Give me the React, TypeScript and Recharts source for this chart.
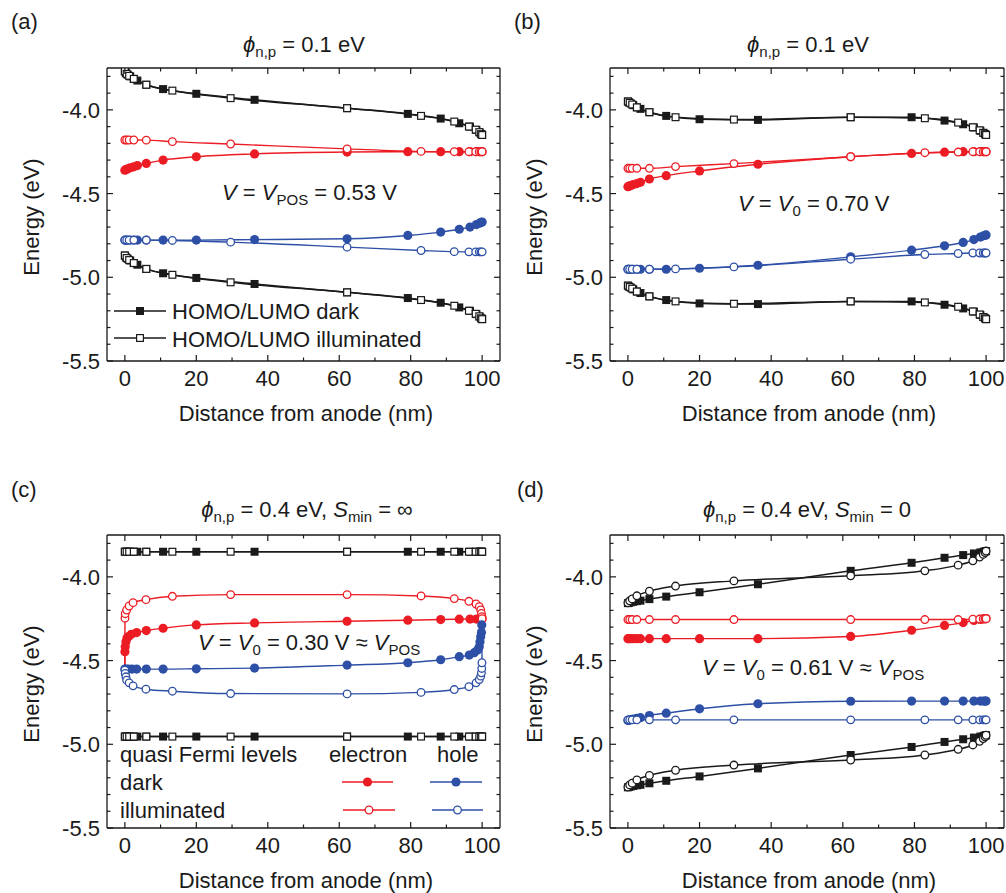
import React from "react";
import { LineChart, Line, XAxis, YAxis } from "recharts";

// ---- data (distance in nm, energy in eV) ----
const gridDark = [0, 0.3, 0.8, 1.5, 2.5, 3.5, 6, 10.7, 20, 36.3, 62.2, 79.2, 88.4, 93.6, 96.6, 98.4, 99.3, 99.8, 100];
const gridIllum = [0, 0.5, 1.2, 2.5, 6, 13.3, 29.6, 62.2, 82.9, 92.2, 96.3, 98.2, 99.2, 99.7, 100];

const xTicks = [0, 10, 20, 30, 40, 50, 60, 70, 80, 90, 100];
const yTicks = [-5.5, -5.4, -5.3, -5.2, -5.1, -5.0, -4.9, -4.8, -4.7, -4.6, -4.5, -4.4, -4.3, -4.2, -4.1, -4.0, -3.9, -3.8];

// (a)
const aLumoDark = [-3.77, -3.78, -3.79, -3.8, -3.815, -3.825, -3.85, -3.876, -3.904, -3.94, -3.99, -4.024, -4.052, -4.08, -4.1, -4.12, -4.135, -4.145, -4.15];
const aHomoDark = [-4.87, -4.88, -4.89, -4.9, -4.915, -4.925, -4.95, -4.976, -5.004, -5.04, -5.09, -5.124, -5.152, -5.18, -5.2, -5.22, -5.235, -5.245, -5.25];
const aLumoIllum = [-3.77, -3.785, -3.797, -3.815, -3.85, -3.885, -3.93, -3.99, -4.036, -4.07, -4.1, -4.118, -4.133, -4.145, -4.15];
const aHomoIllum = [-4.87, -4.885, -4.897, -4.915, -4.95, -4.985, -5.03, -5.09, -5.136, -5.17, -5.2, -5.218, -5.233, -5.245, -5.25];
const aElecDark = [-4.36, -4.357, -4.352, -4.346, -4.34, -4.333, -4.32, -4.3, -4.28, -4.263, -4.252, -4.25, -4.25, -4.25, -4.25, -4.25, -4.25, -4.25, -4.25];
const aElecIllum = [-4.18, -4.18, -4.18, -4.18, -4.181, -4.19, -4.204, -4.233, -4.248, -4.25, -4.25, -4.25, -4.25, -4.25, -4.25];
const aHoleDark = [-4.778, -4.778, -4.778, -4.778, -4.778, -4.778, -4.778, -4.778, -4.778, -4.775, -4.77, -4.75, -4.73, -4.713, -4.7, -4.685, -4.677, -4.672, -4.67];
const aHoleIllum = [-4.778, -4.778, -4.778, -4.778, -4.778, -4.78, -4.79, -4.82, -4.84, -4.847, -4.848, -4.848, -4.848, -4.848, -4.848];

// (b)
const bLumoDark = [-3.95, -3.955, -3.962, -3.972, -3.985, -3.994, -4.014, -4.036, -4.056, -4.06, -4.044, -4.044, -4.064, -4.086, -4.105, -4.125, -4.138, -4.146, -4.15];
const bHomoDark = [-5.05, -5.055, -5.062, -5.072, -5.085, -5.094, -5.114, -5.136, -5.156, -5.16, -5.144, -5.144, -5.164, -5.186, -5.205, -5.225, -5.238, -5.246, -5.25];
const bLumoIllum = [-3.95, -3.958, -3.968, -3.985, -4.014, -4.044, -4.058, -4.044, -4.05, -4.076, -4.104, -4.122, -4.137, -4.145, -4.15];
const bHomoIllum = [-5.05, -5.058, -5.068, -5.085, -5.114, -5.144, -5.158, -5.144, -5.15, -5.176, -5.204, -5.222, -5.237, -5.245, -5.25];
const bElecDark = [-4.459, -4.456, -4.452, -4.446, -4.44, -4.433, -4.413, -4.393, -4.365, -4.325, -4.28, -4.26, -4.253, -4.25, -4.25, -4.25, -4.25, -4.25, -4.25];
const bElecIllum = [-4.349, -4.349, -4.349, -4.349, -4.349, -4.339, -4.321, -4.28, -4.256, -4.252, -4.25, -4.25, -4.25, -4.25, -4.25];
const bHoleDark = [-4.952, -4.952, -4.952, -4.952, -4.952, -4.952, -4.952, -4.952, -4.946, -4.928, -4.878, -4.838, -4.812, -4.792, -4.775, -4.76, -4.752, -4.749, -4.747];
const bHoleIllum = [-4.952, -4.952, -4.952, -4.952, -4.952, -4.95, -4.938, -4.892, -4.864, -4.858, -4.855, -4.855, -4.855, -4.855, -4.855];

// (c)
const cLumoDark = [-3.85, -3.85, -3.85, -3.85, -3.85, -3.85, -3.85, -3.85, -3.85, -3.85, -3.85, -3.85, -3.85, -3.85, -3.85, -3.85, -3.85, -3.85, -3.85];
const cHomoDark = [-4.954, -4.954, -4.954, -4.954, -4.954, -4.954, -4.954, -4.954, -4.954, -4.954, -4.954, -4.954, -4.954, -4.954, -4.954, -4.954, -4.954, -4.954, -4.954];
const cLumoIllum = [-3.85, -3.85, -3.85, -3.85, -3.85, -3.85, -3.85, -3.85, -3.85, -3.85, -3.85, -3.85, -3.85, -3.85, -3.85];
const cHomoIllum = [-4.954, -4.954, -4.954, -4.954, -4.954, -4.954, -4.954, -4.954, -4.954, -4.954, -4.954, -4.954, -4.954, -4.954, -4.954];
const cElecDarkX = [0, 0.02, 0.1, 0.3, 0.6, 1, 1.8, 3.3, 6, 10.7, 20, 36.3, 62.2, 79.2, 88.4, 93.6, 96.6, 98.4, 99.3, 99.8, 100];
const cElecDarkY = [-4.545, -4.447, -4.417, -4.387, -4.365, -4.357, -4.343, -4.333, -4.321, -4.307, -4.287, -4.275, -4.265, -4.259, -4.255, -4.253, -4.252, -4.252, -4.251, -4.25, -4.25];
const cElecIllumX = [0, 0.03, 0.1, 0.5, 1.2, 2.3, 5.9, 13.3, 29.6, 62.2, 82.9, 92.2, 96.3, 98.3, 99.2, 99.6, 99.8, 99.95, 100];
const cElecIllumY = [-4.545, -4.247, -4.22, -4.198, -4.174, -4.154, -4.136, -4.116, -4.106, -4.106, -4.114, -4.13, -4.146, -4.162, -4.178, -4.198, -4.218, -4.238, -4.25];
const cHoleDarkX = [0, 0.3, 1, 2, 3.3, 6, 10.7, 20, 36.3, 62.2, 79.2, 88.4, 93.6, 96.4, 97.8, 98.7, 99.2, 99.4, 99.6, 99.8, 99.9, 100];
const cHoleDarkY = [-4.551, -4.551, -4.551, -4.551, -4.551, -4.551, -4.551, -4.549, -4.545, -4.527, -4.513, -4.495, -4.477, -4.467, -4.453, -4.437, -4.417, -4.387, -4.357, -4.333, -4.287, -4.25];
const cHoleIllumX = [0, 0.1, 0.3, 0.5, 1.2, 2.3, 5.9, 13.3, 29.6, 62.2, 82.9, 92.2, 96.3, 98.3, 99.2, 99.6, 99.8, 99.9, 99.95, 100];
const cHoleIllumY = [-4.557, -4.577, -4.597, -4.617, -4.633, -4.651, -4.671, -4.683, -4.697, -4.699, -4.69, -4.673, -4.656, -4.633, -4.613, -4.593, -4.573, -4.547, -4.513, -4.25];

// (d)
const dLumoDark = [-4.157, -4.155, -4.152, -4.149, -4.145, -4.142, -4.133, -4.118, -4.092, -4.044, -3.964, -3.916, -3.886, -3.87, -3.86, -3.854, -3.85, -3.847, -3.846];
const dHomoDark = [-5.257, -5.255, -5.252, -5.249, -5.245, -5.242, -5.233, -5.218, -5.192, -5.144, -5.064, -5.016, -4.986, -4.97, -4.96, -4.954, -4.95, -4.947, -4.946];
const dLumoIllum = [-4.155, -4.143, -4.132, -4.113, -4.086, -4.055, -4.024, -3.994, -3.964, -3.93, -3.904, -3.882, -3.866, -3.855, -3.846];
const dHomoIllum = [-5.255, -5.243, -5.232, -5.213, -5.186, -5.155, -5.124, -5.094, -5.064, -5.03, -5.004, -4.982, -4.966, -4.955, -4.946];
const dElecDark = [-4.369, -4.369, -4.369, -4.369, -4.369, -4.369, -4.369, -4.369, -4.369, -4.369, -4.356, -4.319, -4.29, -4.273, -4.26, -4.254, -4.251, -4.25, -4.249];
const dElecIllum = [-4.255, -4.255, -4.255, -4.255, -4.255, -4.255, -4.255, -4.255, -4.255, -4.255, -4.253, -4.252, -4.251, -4.25, -4.25];
const dHoleDark = [-4.858, -4.856, -4.853, -4.849, -4.845, -4.841, -4.828, -4.814, -4.788, -4.758, -4.743, -4.742, -4.742, -4.742, -4.742, -4.742, -4.742, -4.742, -4.742];
const dHoleIllum = [-4.854, -4.854, -4.854, -4.854, -4.854, -4.854, -4.854, -4.854, -4.854, -4.854, -4.854, -4.854, -4.854, -4.854, -4.854];

// ---- styling ----
const FONT = "'Liberation Sans', Arial, Helvetica, sans-serif";
const INK = "#1a1a1a";
const RED = "#ec1c24";
const BLUE = "#2d4fa6";
const FS = 22;

type Kind = "sq" | "osq" | "dot" | "odot";
type Series = { xs: number[]; ys: number[]; color: string; kind: Kind; hide?: number[] };

const zip = (xs: number[], ys: number[]) => xs.map((x, i) => ({ x, y: ys[i] }));

function Marker({ kind, color, cx, cy }: { kind: Kind; color: string; cx: number; cy: number }) {
  if (kind === "sq") return <rect x={cx - 4} y={cy - 4} width={8} height={8} fill={color} />;
  if (kind === "osq") return <rect x={cx - 3.4} y={cy - 3.4} width={6.8} height={6.8} fill="#fff" stroke={color} strokeWidth={1.2} />;
  if (kind === "dot") return <circle cx={cx} cy={cy} r={4.6} fill={color} />;
  return <circle cx={cx} cy={cy} r={3.8} fill="#fff" stroke={color} strokeWidth={1.3} />;
}

function makeDot(kind: Kind, color: string, hide: number[]) {
  return (p: any) => {
    const { cx, cy, index } = p;
    if (hide.includes(index) || cx == null || cy == null) return <g key={`d${index}`} />;
    return (
      <g key={`d${index}`}>
        <Marker kind={kind} color={color} cx={cx} cy={cy} />
      </g>
    );
  };
}

const axisLine = { stroke: INK, strokeWidth: 1.3 };
const isMajorY = (v: number) => Math.abs(v * 2 - Math.round(v * 2)) < 1e-6;

const BottomTick = (p: any) => {
  const v = p.payload.value;
  const major = v % 20 === 0;
  return (
    <g>
      <line x1={p.x} x2={p.x} y1={p.y} y2={p.y - (major ? 6 : 3.5)} stroke={INK} strokeWidth={1.2} />
      {major && (
        <text x={p.x} y={p.y + 25} textAnchor="middle" fontSize={FS} fontFamily={FONT} fill={INK}>
          {v}
        </text>
      )}
    </g>
  );
};
const TopTick = (p: any) => {
  const major = p.payload.value % 20 === 0;
  return <line x1={p.x} x2={p.x} y1={p.y} y2={p.y + (major ? 6 : 3.5)} stroke={INK} strokeWidth={1.2} />;
};
const LeftTick = (p: any) => {
  const v = p.payload.value;
  const major = isMajorY(v);
  return (
    <g>
      <line x1={p.x} x2={p.x + (major ? 6 : 3.5)} y1={p.y} y2={p.y} stroke={INK} strokeWidth={1.2} />
      {major && (
        <text x={p.x - 7} y={p.y + 8} textAnchor="end" fontSize={FS} fontFamily={FONT} fill={INK}>
          {v.toFixed(1)}
        </text>
      )}
    </g>
  );
};
const RightTick = (p: any) => {
  const major = isMajorY(p.payload.value);
  return <line x1={p.x} x2={p.x - (major ? 6 : 3.5)} y1={p.y} y2={p.y} stroke={INK} strokeWidth={1.2} />;
};

// axes are 1px thick so Recharts renders them; margins absorb that pixel
function Panel({ left, top, height, right, bottom, series }: { left: number; top: number; height: number; right: number; bottom: number; series: Series[] }) {
  return (
    <div style={{ position: "absolute", left, top }}>
      <LineChart width={503} height={height} margin={{ top: 67, left: 106, right: right - 1, bottom: bottom - 1 }}>
        <XAxis dataKey="x" type="number" domain={[-5, 105]} ticks={xTicks} interval={0} height={1} tickSize={0} tickMargin={0} tickLine={false} axisLine={axisLine} tick={BottomTick} allowDataOverflow />
        <XAxis xAxisId="top" orientation="top" dataKey="x" type="number" domain={[-5, 105]} ticks={xTicks} interval={0} height={1} tickSize={0} tickMargin={0} tickLine={false} axisLine={axisLine} tick={TopTick} allowDataOverflow />
        <YAxis type="number" domain={[-5.5, -3.75]} ticks={yTicks} interval={0} width={1} tickSize={0} tickMargin={0} tickLine={false} axisLine={axisLine} tick={LeftTick} allowDataOverflow />
        <YAxis yAxisId="right" orientation="right" type="number" domain={[-5.5, -3.75]} ticks={yTicks} interval={0} width={1} tickSize={0} tickMargin={0} tickLine={false} axisLine={axisLine} tick={RightTick} allowDataOverflow />
        {series.map((s, i) => (
          <Line
            key={i}
            data={zip(s.xs, s.ys)}
            dataKey="y"
            type="monotone"
            stroke={s.color}
            strokeWidth={s.color === INK ? 1.5 : 1.4}
            dot={makeDot(s.kind, s.color, s.hide || [])}
            activeDot={false}
            isAnimationActive={false}
          />
        ))}
      </LineChart>
    </div>
  );
}

const bands = (ld: number[], hd: number[], li: number[], hi: number[], illumKind: Kind = "osq"): Series[] => [
  { xs: gridDark, ys: ld, color: INK, kind: "sq" },
  { xs: gridIllum, ys: li, color: INK, kind: illumKind },
  { xs: gridDark, ys: hd, color: INK, kind: "sq" },
  { xs: gridIllum, ys: hi, color: INK, kind: illumKind },
];
const fermi = (ed: number[], ei: number[], hd: number[], hi: number[]): Series[] => [
  { xs: gridDark, ys: ed, color: RED, kind: "dot" },
  { xs: gridIllum, ys: ei, color: RED, kind: "odot" },
  { xs: gridDark, ys: hd, color: BLUE, kind: "dot" },
  { xs: gridIllum, ys: hi, color: BLUE, kind: "odot" },
];

const seriesA = [...bands(aLumoDark, aHomoDark, aLumoIllum, aHomoIllum), ...fermi(aElecDark, aElecIllum, aHoleDark, aHoleIllum)];
const seriesB = [...bands(bLumoDark, bHomoDark, bLumoIllum, bHomoIllum), ...fermi(bElecDark, bElecIllum, bHoleDark, bHoleIllum)];
const seriesC: Series[] = [
  ...bands(cLumoDark, cHomoDark, cLumoIllum, cHomoIllum),
  { xs: cElecDarkX, ys: cElecDarkY, color: RED, kind: "dot", hide: [0] },
  { xs: cElecIllumX, ys: cElecIllumY, color: RED, kind: "odot", hide: [0] },
  { xs: cHoleDarkX, ys: cHoleDarkY, color: BLUE, kind: "dot", hide: [cHoleDarkX.length - 1] },
  { xs: cHoleIllumX, ys: cHoleIllumY, color: BLUE, kind: "odot", hide: [cHoleIllumX.length - 1] },
];
const seriesD = [...bands(dLumoDark, dHomoDark, dLumoIllum, dHomoIllum, "odot"), ...fermi(dElecDark, dElecIllum, dHoleDark, dHoleIllum)];

// ---- text helpers ----
const T = (props: any) => <text fontFamily={FONT} fontSize={FS} fill={INK} {...props} />;
const Sub = ({ children }: { children: React.ReactNode }) => (
  <tspan fontSize={15} dy={5}>
    {children}
  </tspan>
);
const Up = ({ children }: { children: React.ReactNode }) => <tspan dy={-5}>{children}</tspan>;
const It = ({ children }: { children: React.ReactNode }) => <tspan fontStyle="italic">{children}</tspan>;

function Title({ x, y, phi, smin }: { x: number; y: number; phi: string; smin?: string }) {
  return (
    <T x={x} y={y} textAnchor="middle">
      <It>ϕ</It>
      <Sub>n,p</Sub>
      <Up>{` = ${phi} eV`}</Up>
      {smin !== undefined && (
        <>
          <tspan>{", "}</tspan>
          <It>S</It>
          <Sub>min</Sub>
          <Up>{` = ${smin}`}</Up>
        </>
      )}
    </T>
  );
}

function AxisTitles({ dx, dy }: { dx: number; dy: number }) {
  return (
    <>
      <T x={306 + dx} y={421 + dy} textAnchor="middle">
        Distance from anode (nm)
      </T>
      <T x={0} y={0} textAnchor="middle" transform={`translate(${39 + dx},${217 + dy}) rotate(-90)`}>
        Energy (eV)
      </T>
    </>
  );
}

const LegLine = ({ x1, x2, y, color, kind }: { x1: number; x2: number; y: number; color: string; kind: Kind }) => (
  <g>
    <line x1={x1} x2={x2} y1={y} y2={y} stroke={color} strokeWidth={1.4} />
    <Marker kind={kind} color={color} cx={(x1 + x2) / 2} cy={y} />
  </g>
);

export default function App() {
  return (
    <div style={{ position: "absolute", left: 0, top: 0, width: 1006, height: 893, background: "#fff", overflow: "hidden" }}>
      <Panel left={0} top={0} height={440} right={3} bottom={79} series={seriesA} />
      <Panel left={503} top={0} height={440} right={2} bottom={79} series={seriesB} />
      <Panel left={0} top={467} height={426} right={3} bottom={65} series={seriesC} />
      <Panel left={503} top={467} height={426} right={2} bottom={65} series={seriesD} />
      <svg width={1006} height={893} style={{ position: "absolute", left: 0, top: 0, pointerEvents: "none" }}>
        <T x={11} y={29}>(a)</T>
        <T x={514} y={29}>(b)</T>
        <T x={11} y={497}>(c)</T>
        <T x={517} y={497}>(d)</T>

        <Title x={304} y={52} phi="0.1" />
        <Title x={808} y={52} phi="0.1" />
        <Title x={307} y={517} phi="0.4" smin="∞" />
        <Title x={807} y={517} phi="0.4" smin="0" />

        <AxisTitles dx={0} dy={0} />
        <AxisTitles dx={503} dy={0} />
        <AxisTitles dx={0} dy={467} />
        <AxisTitles dx={503} dy={467} />

        <T x={222} y={200}>
          <It>V</It>
          {" = "}
          <It>V</It>
          <Sub>POS</Sub>
          <Up>{" = 0.53 V"}</Up>
        </T>
        <T x={738} y={211}>
          <It>V</It>
          {" = "}
          <It>V</It>
          <Sub>0</Sub>
          <Up>{" = 0.70 V"}</Up>
        </T>
        <T x={198} y={650}>
          <It>V</It>
          {" = "}
          <It>V</It>
          <Sub>0</Sub>
          <Up>{" = 0.30 V ≈ "}</Up>
          <It>V</It>
          <Sub>POS</Sub>
        </T>
        <T x={702} y={675}>
          <It>V</It>
          {" = "}
          <It>V</It>
          <Sub>0</Sub>
          <Up>{" = 0.61 V ≈ "}</Up>
          <It>V</It>
          <Sub>POS</Sub>
        </T>

        {/* legend (a) */}
        <LegLine x1={114} x2={166} y={311} color={INK} kind="sq" />
        <LegLine x1={114} x2={166} y={338} color={INK} kind="osq" />
        <T x={172} y={319}>HOMO/LUMO dark</T>
        <T x={172} y={347}>HOMO/LUMO illuminated</T>

        {/* legend (c) */}
        <T x={120} y={762}>quasi Fermi levels</T>
        <T x={329} y={762}>electron</T>
        <T x={437} y={762}>hole</T>
        <T x={120} y={790}>dark</T>
        <T x={120} y={818}>illuminated</T>
        <LegLine x1={342} x2={393} y={782} color={RED} kind="dot" />
        <LegLine x1={430} x2={482} y={782} color={BLUE} kind="dot" />
        <LegLine x1={343} x2={395} y={810} color={RED} kind="odot" />
        <LegLine x1={432} x2={483} y={810} color={BLUE} kind="odot" />
      </svg>
    </div>
  );
}
